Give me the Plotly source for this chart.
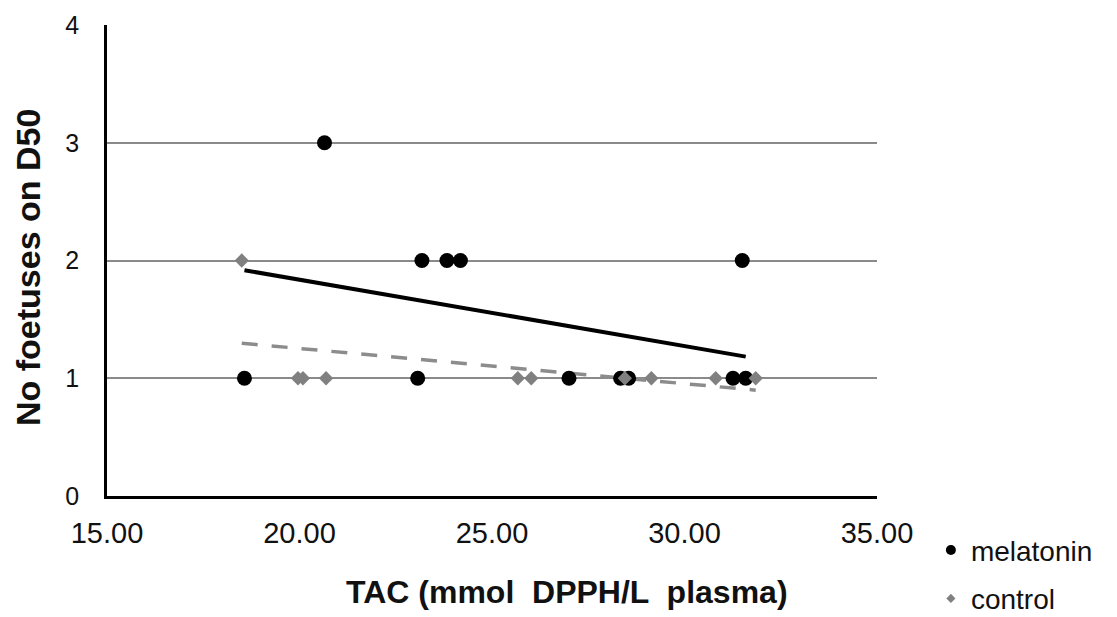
import numpy as np
import plotly.graph_objects as go

# ---- data ----
mel_x = [18.57, 20.65, 23.07, 23.18, 23.83, 24.18, 27.00, 28.34, 28.55, 31.26, 31.50, 31.59]
mel_y = [1, 3, 1, 2, 2, 2, 1, 1, 1, 1, 2, 1]
ctl_x = [18.50, 19.96, 20.09, 20.69, 25.67, 26.02, 28.45, 29.14, 30.81, 31.85]
ctl_y = [2, 1, 1, 1, 1, 1, 1, 1, 1, 1]
series_names = ["melatonin", "control"]
x_title = "TAC (mmol \u00a0DPPH/L \u00a0plasma)"
y_title = "No foetuses on D50"

FONT = "Liberation Sans, Arial, sans-serif"
BLACK = "#000000"
GREY = "#808080"
TXT = "#111111"


def trend(xs, ys):
    k, b = np.polyfit(xs, ys, 1)
    xx = np.array([min(xs), max(xs)])
    return xx, k * xx + b


fig = go.Figure()

# trend lines (linear fits)
tx, ty = trend(mel_x, mel_y)
fig.add_trace(go.Scatter(x=tx, y=ty, mode="lines", line=dict(color=BLACK, width=4),
                         showlegend=False, hoverinfo="skip"))
tx, ty = trend(ctl_x, ctl_y)
fig.add_trace(go.Scatter(x=tx, y=ty, mode="lines",
                         line=dict(color="#8c8c8c", width=3.5, dash="16px,14px"),
                         showlegend=False, hoverinfo="skip"))

# data points
fig.add_trace(go.Scatter(x=mel_x, y=mel_y, mode="markers", name=series_names[0],
                         marker=dict(symbol="circle", size=15, color=BLACK),
                         showlegend=False))
fig.add_trace(go.Scatter(x=ctl_x, y=ctl_y, mode="markers", name=series_names[1],
                         marker=dict(symbol="diamond", size=11, color=GREY),
                         showlegend=False))

# legend entries
fig.add_trace(go.Scatter(x=[None], y=[None], mode="markers", name=series_names[0],
                         legendgroup="m", marker=dict(symbol="circle", size=10, color=BLACK)))
fig.add_trace(go.Scatter(x=[None], y=[None], mode="markers", name=series_names[1],
                         legendgroup="c", marker=dict(symbol="diamond", size=7, color=GREY)))

fig.update_layout(
    width=1117, height=617,
    margin=dict(l=107, r=240, t=25, b=121, autoexpand=False),
    paper_bgcolor="white", plot_bgcolor="white",
    font=dict(family=FONT, color=BLACK),
    xaxis=dict(range=[15, 35], dtick=5, tick0=15, tickformat=".2f",
               showgrid=False, zeroline=False, showline=True, linecolor=BLACK,
               linewidth=2.5, ticks="", tickfont=dict(size=29, color=TXT),
               ticklabelstandoff=9),
    yaxis=dict(range=[0, 4], dtick=1, tick0=0, showgrid=True, gridcolor="#8a8a8a",
               gridwidth=2, zeroline=False, showline=True, linecolor=BLACK,
               linewidth=2.5, ticks="", tickfont=dict(size=25, color=TXT),
               ticklabelstandoff=20),
    legend=dict(x=1.07, xanchor="left", y=-0.0622, yanchor="top",
                font=dict(size=28, family=FONT, color=TXT),
                traceorder="grouped", tracegroupgap=9,
                bgcolor="rgba(0,0,0,0)", itemwidth=30),
    annotations=[
        dict(text="<b>" + x_title + "</b>", xref="paper", yref="paper",
             x=(567 - 107) / 770, y=(496 - 592) / 471, xanchor="center", yanchor="middle",
             showarrow=False, font=dict(size=32, family=FONT, color=TXT)),
        dict(text="<b>" + y_title + "</b>", xref="paper", yref="paper",
             x=(28 - 107) / 770, y=(496 - 268) / 471, xanchor="center", yanchor="middle",
             textangle=-90, showarrow=False, font=dict(size=34, family=FONT, color=TXT)),
    ],
)

fig.write_html("out.html")
